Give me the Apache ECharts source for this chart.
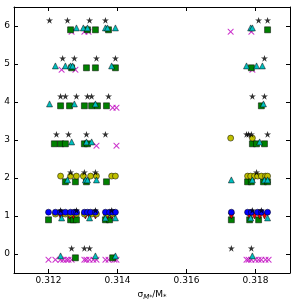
<!DOCTYPE html>
<html><head><meta charset="utf-8">
<script src="https://cdn.jsdelivr.net/npm/echarts@6/dist/echarts.min.js"></script>
<style>html,body{margin:0;padding:0;background:#fff}#c{width:295px;height:300px}</style>
</head><body><div id="c"></div>
<script>
// Data: [x, y] pairs per marker type (y includes the category offset)
const xTicks = [0.312, 0.314, 0.316, 0.318];
const yTicks = [0, 1, 2, 3, 4, 5, 6];

const starPts = [
 [0.31203,6.15],[0.31255,6.15],[0.31319,6.15],[0.31365,6.15],[0.31809,6.15],[0.31835,6.15],
 [0.31241,5.15],[0.31275,5.15],[0.31339,5.15],[0.31394,5.15],[0.31826,5.15],
 [0.31235,4.15],[0.31249,4.15],[0.31281,4.15],[0.31313,4.15],[0.31325,4.15],[0.31374,4.15],[0.31791,4.15],[0.31826,4.15],
 [0.31223,3.15],[0.31258,3.15],[0.31310,3.15],[0.31365,3.15],[0.31774,3.15],[0.31780,3.15],[0.31788,3.15],[0.31835,3.15],
 [0.31264,2.15],[0.31304,2.15],[0.31336,2.15],[0.31803,2.15],
 [0.31235,1.15],[0.31281,1.15],[0.31336,1.15],[0.31383,1.15],[0.31791,1.15],[0.31817,1.15],
 [0.31267,0.15],[0.31304,0.15],[0.31319,0.15],[0.31730,0.15],[0.31788,0.15]
];
const triPts = [
 [0.31281,5.95],[0.31301,5.95],[0.31313,5.95],[0.31365,5.95],[0.31371,5.95],[0.31394,5.95],[0.31786,5.95],[0.31791,5.95],
 [0.31220,4.95],[0.31249,4.95],[0.31264,4.95],[0.31270,4.95],[0.31383,4.95],[0.31774,4.95],[0.31803,4.95],[0.31820,4.95],
 [0.31203,3.95],[0.31275,3.95],[0.31336,3.95],[0.31823,3.95],
 [0.31267,2.95],[0.31310,2.95],[0.31325,2.95],[0.31812,2.95],
 [0.31255,1.95],[0.31307,1.95],[0.31313,1.95],[0.31339,1.95],[0.31730,1.95],[0.31791,1.95],[0.31826,1.95],[0.31835,1.95],
 [0.31238,0.95],[0.31319,0.95],[0.31365,0.95],[0.31394,0.95],[0.31786,0.95],[0.31835,0.95],
 [0.31235,-0.05],[0.31336,-0.05],[0.31394,-0.05],[0.31791,-0.05]
];
const sqPts = [
 [0.31264,5.9],[0.31313,5.9],[0.31336,5.9],[0.31374,5.9],[0.31835,5.9],
 [0.31267,4.9],[0.31310,4.9],[0.31336,4.9],[0.31394,4.9],[0.31788,4.9],
 [0.31235,3.9],[0.31261,3.9],[0.31304,3.9],[0.31325,3.9],[0.31342,3.9],[0.31368,3.9],[0.31817,3.9],
 [0.31217,2.9],[0.31235,2.9],[0.31249,2.9],[0.31304,2.9],[0.31313,2.9],[0.31791,2.9],[0.31803,2.9],[0.31826,2.9],
 [0.31249,1.9],[0.31278,1.9],[0.31310,1.9],[0.31368,1.9],[0.31777,1.9],[0.31788,1.9],[0.31823,1.9],[0.31835,1.9],
 [0.31200,0.9],[0.31264,0.9],[0.31272,0.9],[0.31281,0.9],[0.31365,0.9],[0.31377,0.9],[0.31730,0.9],[0.31783,0.9],[0.31809,0.9],
 [0.31278,-0.1],[0.31386,-0.1]
];
const xPts = [
 [0.31267,5.85],[0.31304,5.85],[0.31316,5.85],[0.31728,5.85],[0.31788,5.85],
 [0.31238,4.85],[0.31278,4.85],[0.31791,4.85],
 [0.31386,3.85],[0.31397,3.85],
 [0.31339,2.85],[0.31397,2.85],
 [0.31200,-0.15],[0.31220,-0.15],[0.31235,-0.15],[0.31243,-0.15],[0.31252,-0.15],[0.31258,-0.15],[0.31267,-0.15],
 [0.31304,-0.15],[0.31310,-0.15],[0.31319,-0.15],[0.31330,-0.15],[0.31339,-0.15],[0.31365,-0.15],[0.31374,-0.15],[0.31391,-0.15],[0.31397,-0.15],
 [0.31774,-0.15],[0.31780,-0.15],[0.31788,-0.15],[0.31800,-0.15],[0.31809,-0.15],[0.31817,-0.15],[0.31829,-0.15],[0.31838,-0.15]
];
const yelPts = [
 [0.31728,3.05],[0.31791,3.05],
 [0.31235,2.05],[0.31264,2.05],[0.31281,2.05],[0.31301,2.05],[0.31322,2.05],[0.31339,2.05],[0.31383,2.05],[0.31394,2.05],
 [0.31777,2.05],[0.31786,2.05],[0.31797,2.05],[0.31806,2.05],[0.31817,2.05],[0.31829,2.05],[0.31835,2.05],
 [0.31220,1.05],[0.31249,1.05],[0.31264,1.05],[0.31281,1.05],[0.31304,1.05],[0.31325,1.05],[0.31339,1.05],[0.31368,1.05],[0.31386,1.05]
];
const bluePts = [
 [0.31200,1.1],[0.31220,1.1],[0.31235,1.1],[0.31249,1.1],[0.31264,1.1],[0.31275,1.1],[0.31281,1.1],[0.31304,1.1],[0.31313,1.1],
 [0.31322,1.1],[0.31336,1.1],[0.31365,1.1],[0.31377,1.1],[0.31386,1.1],[0.31394,1.1],
 [0.31730,1.1],[0.31777,1.1],[0.31788,1.1],[0.31806,1.1],[0.31817,1.1],[0.31835,1.1]
];
const redPts = [
 [0.31235,1.0],[0.31238,1.0],[0.31261,1.0],[0.31272,1.0],[0.31307,1.0],[0.31319,1.0],[0.31336,1.0],[0.31371,1.0],[0.31383,1.0],
 [0.31730,1.0],[0.31783,1.0],[0.31797,1.0],[0.31812,1.0],[0.31826,1.0]
];

const STAR = 'path://M100 0 L122.45 69.1 L195.1 69.1 L136.3 111.8 L158.8 180.9 L100 138.2 L41.2 180.9 L63.7 111.8 L4.9 69.1 L77.55 69.1 Z';
const XSYM = 'path://M0 0 L12 0 L50 38 L88 0 L100 0 L100 12 L62 50 L100 88 L100 100 L88 100 L50 62 L12 100 L0 100 L0 88 L38 50 L0 12 Z';

function sc(data, symbol, size, color, extra) {
  return Object.assign({
    type: 'scatter', data: data, symbol: symbol, symbolSize: size,
    symbolKeepAspect: true, silent: true, animation: false,
    itemStyle: { color: color, borderColor: '#000', borderWidth: 0.5, opacity: 1 }
  }, extra || {});
}

const chart = echarts.init(document.getElementById('c'), null, { renderer: 'canvas' });
const fmt = v => v.toFixed(3);
chart.setOption({
  animation: false,
  grid: { left: 14, right: 5, top: 7, bottom: 27, show: false, containLabel: false, outerBoundsMode: 'none' },
  xAxis: [{
    type: 'value', min: 0.311, max: 0.319, position: 'bottom',
    axisLine: { show: true, onZero: false, lineStyle: { color: '#000', width: 1 } },
    axisTick: { show: true, inside: true, length: 4, customValues: xTicks, lineStyle: { color: '#000' } },
    axisLabel: { customValues: xTicks, formatter: fmt, color: '#000', fontSize: 9, fontFamily: 'DejaVu Sans', margin: 3 },
    splitLine: { show: false },
    name: '{a|σ}{s|M}{t|*}{a|/M}{s|*}', nameLocation: 'middle', nameGap: 14,
    nameTextStyle: { rich: {
      a: { fontSize: 9, fontFamily: 'DejaVu Sans', color: '#000' },
      s: { fontSize: 7, fontFamily: 'DejaVu Sans', fontStyle: 'italic', color: '#000', verticalAlign: 'bottom', padding: [5,0,0,0] },
      t: { fontSize: 6, fontFamily: 'DejaVu Sans', color: '#000', verticalAlign: 'bottom', padding: [7,0,0,0] }
    } }
  }, {
    type: 'value', min: 0.311, max: 0.319, position: 'top',
    axisLine: { show: true, onZero: false, lineStyle: { color: '#000', width: 1 } },
    axisTick: { show: true, inside: true, length: 4, customValues: xTicks, lineStyle: { color: '#000' } },
    axisLabel: { show: false }, splitLine: { show: false }
  }],
  yAxis: [{
    type: 'value', min: -0.5, max: 6.5, position: 'left',
    axisLine: { show: true, onZero: false, lineStyle: { color: '#000', width: 1 } },
    axisTick: { show: true, inside: true, length: 4, customValues: yTicks, lineStyle: { color: '#000' } },
    axisLabel: { customValues: yTicks, color: '#000', fontSize: 9, fontFamily: 'DejaVu Sans', margin: 4 },
    splitLine: { show: false }
  }, {
    type: 'value', min: -0.5, max: 6.5, position: 'right',
    axisLine: { show: true, onZero: false, lineStyle: { color: '#000', width: 1 } },
    axisTick: { show: true, inside: true, length: 4, customValues: yTicks, lineStyle: { color: '#000' } },
    axisLabel: { show: false }, splitLine: { show: false }
  }],
  series: [
    sc(xPts, XSYM, 6, '#bf00bf', { itemStyle: { color: '#bf00bf', borderWidth: 0 } }),
    sc(sqPts, 'rect', 6, '#008000'),
    sc(redPts, 'triangle', 6, '#ff0000', { symbolRotate: 180 }),
    sc(yelPts, 'circle', 6, '#bfbf00'),
    sc(bluePts, 'circle', 6, '#0000ff'),
    sc(triPts, 'triangle', 6, '#00bfbf'),
    sc(starPts, STAR, 7, '#000000', { itemStyle: { color: '#000', borderWidth: 0 } })
  ]
});
</script></body></html>
